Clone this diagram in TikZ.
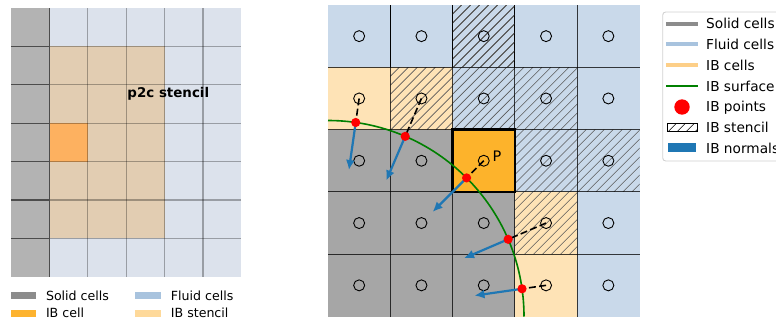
\documentclass[tikz,border=0pt]{standalone}
\usepackage{fontspec}
\setmainfont{DejaVu Sans}
\usetikzlibrary{calc,arrows.meta}
\definecolor{lsolid}{HTML}{B3B3B3}
\definecolor{lfluid}{HTML}{DCE2EC}
\definecolor{lstencil}{HTML}{E2CDB2}
\definecolor{libcell}{HTML}{FDB160}
\definecolor{rsolid}{HTML}{A6A6A6}
\definecolor{rfluid}{HTML}{C9D9EA}
\definecolor{ribcell}{HTML}{FEE3B6}
\definecolor{rpcell}{HTML}{FDB32B}
\definecolor{gsolid}{HTML}{8C8C8C}
\definecolor{gfluid}{HTML}{A8C3DE}
\definecolor{gibcell}{HTML}{FDCF88}
\definecolor{bibcell}{HTML}{FDB32F}
\definecolor{bstencil}{HTML}{FED99A}
\definecolor{ibgreen}{HTML}{008000}
\definecolor{ibblue}{HTML}{1F77B4}
\definecolor{ibred}{HTML}{FF0000}
\tikzset{
  lgrid/.style={black,opacity=0.3,line width=1.1pt},
  dkgrid/.style={black!70,line width=1.1pt},
  rgrid/.style={black,opacity=0.75,line width=0.9pt},
  hatchline/.style={black!65,line width=0.6pt},
  cmark/.style={black,line width=0.9pt},
  dashl/.style={black,line width=1.6pt,dash pattern=on 7pt off 3.3pt},
  normalarrow/.style={ibblue,line width=2.2pt,-{Latex[length=10pt,width=9pt]}},
  ibpt/.style={ibred},
  legtext/.style={anchor=base west,inner sep=0pt,font=\fontsize{13.7}{16}\selectfont},
  btext/.style={anchor=base west,inner sep=0pt,font=\fontsize{12.6}{15}\selectfont},
}
\newcommand\rcell[3]{\fill[#3] ({328+#1*62.3},{5+#2*62.3}) rectangle ++(62.3,62.3);}
\newcommand\hatchcell[2]{\begin{scope}
  \clip ({328+#1*62.3},{5+#2*62.3}) rectangle ++(62.3,62.3);
  \foreach \k in {0,...,14} \draw[hatchline] ({328+#1*62.3-62.3+\k*9},{5+#2*62.3+62.3}) -- ++(62.3,-62.3);
  \end{scope}}
\begin{document}
\begin{tikzpicture}[x=1pt,y=-1pt]
\useasboundingbox (0,0) rectangle (776,324);
\clip (0,0) rectangle (776,324);
% ---------- left panel ----------
\fill[lfluid] (11,8) rectangle (241.4,276.8);
\fill[lsolid] (11,8) rectangle (49.4,276.8);
\fill[lstencil] (49.4,46.4) rectangle (164.6,238.4);
\fill[libcell] (49.4,123.2) rectangle (87.8,161.6);
\foreach \i in {2,...,5} \draw[lgrid] ({11+\i*38.4},8) -- ({11+\i*38.4},276.8);
\foreach \j in {1,...,6} \draw[lgrid] (49.4,{8+\j*38.4}) -- (241.4,{8+\j*38.4});
\foreach \j in {1,...,6} \draw[dkgrid] (11,{8+\j*38.4}) -- (49.4,{8+\j*38.4});
\draw[dkgrid] (49.4,8) -- (49.4,276.8);
\node[anchor=base,inner sep=0pt,font=\bfseries\fontsize{13.4}{16}\selectfont] (p2c) at (168.3,97.7) {p2c stencil};
% bottom legend
\fill[gsolid] (11,292.3) rectangle (36,299.3);
\fill[bibcell] (11,310) rectangle (36,317);
\fill[gfluid] (135,292.3) rectangle (161.3,299.3);
\fill[bstencil] (135,310) rectangle (161.3,317);
\node[btext] (bl1) at (45.8,300) {Solid cells};
\node[btext] (bl2) at (45.8,317.6) {IB cell};
\node[btext] (bl3) at (170.7,300) {Fluid cells};
\node[btext] (bl4) at (170.7,317.6) {IB stencil};
% ---------- right panel ----------
\foreach \c in {0,...,4} \rcell{\c}{0}{rfluid}
\rcell{0}{1}{ribcell}\rcell{1}{1}{ribcell}\rcell{2}{1}{rfluid}\rcell{3}{1}{rfluid}\rcell{4}{1}{rfluid}
\rcell{0}{2}{rsolid}\rcell{1}{2}{rsolid}\rcell{2}{2}{rpcell}\rcell{3}{2}{rfluid}\rcell{4}{2}{rfluid}
\rcell{0}{3}{rsolid}\rcell{1}{3}{rsolid}\rcell{2}{3}{rsolid}\rcell{3}{3}{ribcell}\rcell{4}{3}{rfluid}
\rcell{0}{4}{rsolid}\rcell{1}{4}{rsolid}\rcell{2}{4}{rsolid}\rcell{3}{4}{ribcell}\rcell{4}{4}{rfluid}
\hatchcell{2}{0}\hatchcell{1}{1}\hatchcell{2}{1}\hatchcell{3}{1}
\hatchcell{3}{2}\hatchcell{4}{2}\hatchcell{3}{3}
\foreach \i in {1,...,4} {
  \draw[rgrid] ({328+\i*62.3},5) -- ({328+\i*62.3},316.5);
  \draw[rgrid] (328,{5+\i*62.3}) -- (639.5,{5+\i*62.3});
}
\draw[black,line width=2.8pt] (452.6,129.6) rectangle ++(62.3,62.3);
\foreach \c in {0,...,4} \foreach \r in {0,...,4} {
  \coordinate (c\c\r) at ({328+(\c+0.5)*62.3},{5+(\r+0.5)*62.3});
  \draw[cmark] (c\c\r) circle[radius=5.5];
}
\coordinate (O) at (328,316.5);
\draw[ibgreen,line width=1.6pt] (328,120.5) arc[start angle=-90,end angle=0,radius=196];
\foreach \n/\cc in {1/c01,2/c11,3/c22,4/c33,5/c34} {
  \coordinate (p\n) at ($(O)!196pt!(\cc)$);
  \draw[dashl] (\cc) -- (p\n);
  \draw[normalarrow] (p\n) -- ($(p\n)!48pt!(O)$);
}
\foreach \n in {1,...,5} \fill[ibpt] (p\n) circle[radius=4.6];
\node[inner sep=0pt,font=\fontsize{14.5}{17}\selectfont] (plab) at (497,156.3) {P};
% ---------- right legend ----------
\draw[black!18,fill=white,line width=0.9pt,rounded corners=3pt] (662.7,12) rectangle (800,161);
\draw[gsolid,line width=4pt] (666,23.7) -- (697.7,23.7);
\draw[gfluid,line width=4pt] (666,44.4) -- (697.7,44.4);
\draw[gibcell,line width=4pt] (666,65.1) -- (697.7,65.1);
\draw[ibgreen,line width=1.8pt] (666,85.8) -- (697.7,85.8);
\fill[ibred] (682,107) circle[radius=7.7];
\begin{scope}
  \clip (667.7,123) rectangle (697,131);
  \foreach \k in {0,...,5} \draw[hatchline,black] ({667.7-8+\k*9},131) -- ++(8,-8);
\end{scope}
\draw[black,line width=0.8pt] (667.7,123) rectangle (697,131);
\fill[ibblue] (667.7,143.3) rectangle (696,152.3);
\node[legtext] (g1) at (706,28.9) {Solid cells};
\node[legtext] (g2) at (706,49.6) {Fluid cells};
\node[legtext] (g3) at (706,70.3) {IB cells};
\node[legtext] (g4) at (706,91) {IB surface};
\node[legtext] (g5) at (706,111.7) {IB points};
\node[legtext] (g6) at (706,132.4) {IB stencil};
\node[legtext] (g7) at (706,153.1) {IB normals};
\end{tikzpicture}
\end{document}
